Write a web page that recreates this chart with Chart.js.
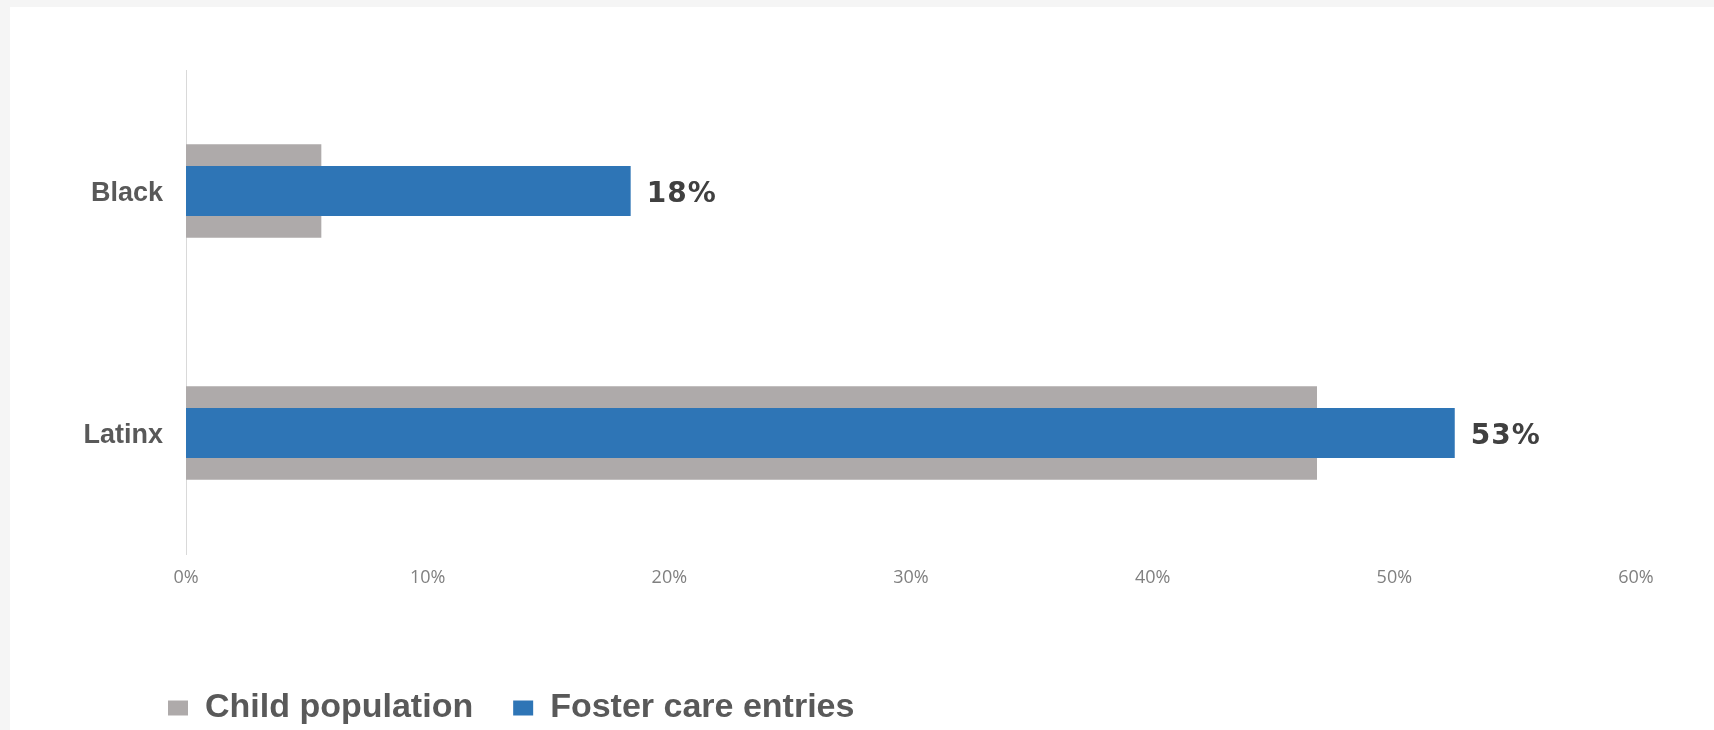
<!DOCTYPE html>
<html>
<head>
<meta charset="utf-8">
<script src="https://cdn.jsdelivr.net/npm/chart.js@4.4.1/dist/chart.umd.min.js"></script>
<style>
  html, body { margin: 0; padding: 0; background: #f5f5f5; overflow: hidden; }
  #panel { position: absolute; left: 10px; top: 7px; width: 1704px; height: 723px; background: #fff; overflow: hidden; }
  #chart { display: block; }
</style>
</head>
<body>
<div id="panel"><canvas id="chart" width="1704" height="728"></canvas></div>
<script>
const groups = ["Black", "Latinx"]
const childPopulation = [5.6, 46.8]
const fosterEntries = [18.4, 52.5]
const xTicks = [0, 10, 20, 30, 40, 50, 60]

// labels at the end of the blue bars
const barLabels = {
  id: 'barLabels',
  afterDatasetsDraw(chart) {
    const ctx = chart.ctx
    const meta = chart.getDatasetMeta(1)
    ctx.save()
    ctx.font = "bold 28px 'DejaVu Sans'"
    ctx.letterSpacing = '1px'
    ctx.fillStyle = '#404040'
    ctx.textAlign = 'left'
    ctx.textBaseline = 'middle'
    meta.data.forEach(function(bar, i) {
      ctx.fillText(Math.round(fosterEntries[i]) + '%', bar.x + 16, bar.y + 4)
    })
    ctx.restore()
  }
}

// legend starts under the axis, not at the left edge of the canvas
const legendShift = {
  id: 'legendShift',
  afterLayout(chart) {
    chart.legend.left = 118
  }
}

Chart.defaults.devicePixelRatio = 1

const chart = new Chart('chart', {
  type: 'bar',
  data: {
    labels: groups,
    datasets: [
      {
        label: 'Child population',
        data: childPopulation,
        backgroundColor: '#aeaaaa',
        barPercentage: 0.387,
        categoryPercentage: 1,
        grouped: false,
        order: 2
      },
      {
        label: 'Foster care entries',
        data: fosterEntries,
        backgroundColor: '#2e75b6',
        barPercentage: 0.207,
        categoryPercentage: 1,
        grouped: false,
        order: 1
      }
    ]
  },
  options: {
    indexAxis: 'y',
    responsive: false,
    animation: false,
    layout: {
      padding: { left: 60, right: 78, top: 63, bottom: 0 }
    },
    scales: {
      x: {
        min: 0,
        max: 60,
        afterBuildTicks: function(scale) {
          scale.ticks = xTicks.map(function(v) { return { value: v } })
        },
        afterFit: function(scale) { scale.height = 97 },
        grid: { display: false, drawTicks: false },
        border: { display: false },
        ticks: {
          padding: 13,
          color: '#808080',
          font: { family: "'Open Sans'", size: 18 },
          callback: function(v) { return v + '%' }
        }
      },
      y: {
        afterFit: function(scale) { scale.width = 116 },
        grid: { display: false, drawTicks: false },
        border: { display: true, color: '#d9d9d9', width: 1 },
        ticks: {
          padding: 23,
          labelOffset: 3,
          color: '#595959',
          font: { family: "'Liberation Sans'", size: 27, weight: 'bold' }
        }
      }
    },
    plugins: {
      legend: {
        position: 'bottom',
        align: 'start',
        labels: {
          boxWidth: 20,
          boxHeight: 15,
          padding: 40,
          color: '#595959',
          font: { family: "'Liberation Sans'", size: 34, weight: 'bold' },
          sort: function(a, b) { return a.datasetIndex - b.datasetIndex }
        }
      },
      tooltip: { enabled: false }
    }
  },
  plugins: [barLabels, legendShift]
})
</script>
</body>
</html>
